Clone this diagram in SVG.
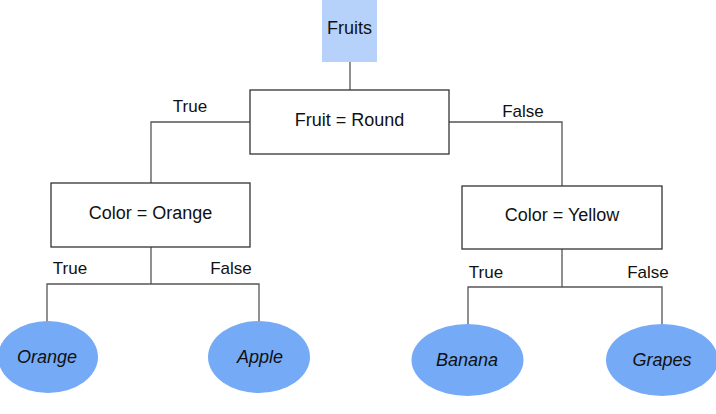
<svg xmlns="http://www.w3.org/2000/svg" width="716" height="414" viewBox="0 0 716 414">
<style>
.box{fill:#fff;stroke:#333;stroke-width:1.3}
.leaf{fill:#75aaf7;stroke:none}
.edge{fill:none;stroke:#555;stroke-width:1.3}
text{font-family:"Liberation Sans",Arial,sans-serif;font-size:17px;fill:#111;text-anchor:middle}
.n{font-size:18px}
.it{font-style:italic;font-size:18px}
</style>
<rect width="716" height="414" fill="#fff"/>
<g id="connectors">
<path class="edge" d="M350 62V90"/>
<path class="edge" d="M250 122H151V183"/>
<path class="edge" d="M449 122H562V186"/>
<path class="edge" d="M151 247V284M47 322V284H259V322"/>
<path class="edge" d="M562 249V287M468 324V287H662V324"/>
<text x="190" y="112">True</text>
<text x="523" y="117">False</text>
<text x="70" y="274">True</text>
<text x="231" y="274">False</text>
<text x="486" y="278">True</text>
<text x="648" y="278">False</text>
</g>
<g id="fruits"><rect x="322" y="0" width="55" height="62" fill="#b6d1fa"/><text class="n" x="349.5" y="34">Fruits</text></g>
<g id="round"><rect class="box" x="250" y="90" width="199" height="64"/><text class="n" x="349.5" y="126">Fruit = Round</text></g>
<g id="orange-q"><rect class="box" x="51" y="183" width="199" height="64"/><text class="n" x="150.5" y="219">Color = Orange</text></g>
<g id="yellow-q"><rect class="box" x="462" y="186" width="200" height="63"/><text class="n" x="562" y="221">Color = Yellow</text></g>
<g id="orange"><ellipse class="leaf" cx="48" cy="357" rx="50" ry="36"/><text class="it" x="47" y="363">Orange</text></g>
<g id="apple"><ellipse class="leaf" cx="259" cy="357" rx="51" ry="36"/><text class="it" x="260" y="363">Apple</text></g>
<g id="banana"><ellipse class="leaf" cx="467.5" cy="360" rx="56" ry="36"/><text class="it" x="467" y="366">Banana</text></g>
<g id="grapes"><ellipse class="leaf" cx="662" cy="360" rx="56" ry="36"/><text class="it" x="662" y="366">Grapes</text></g>
</svg>
